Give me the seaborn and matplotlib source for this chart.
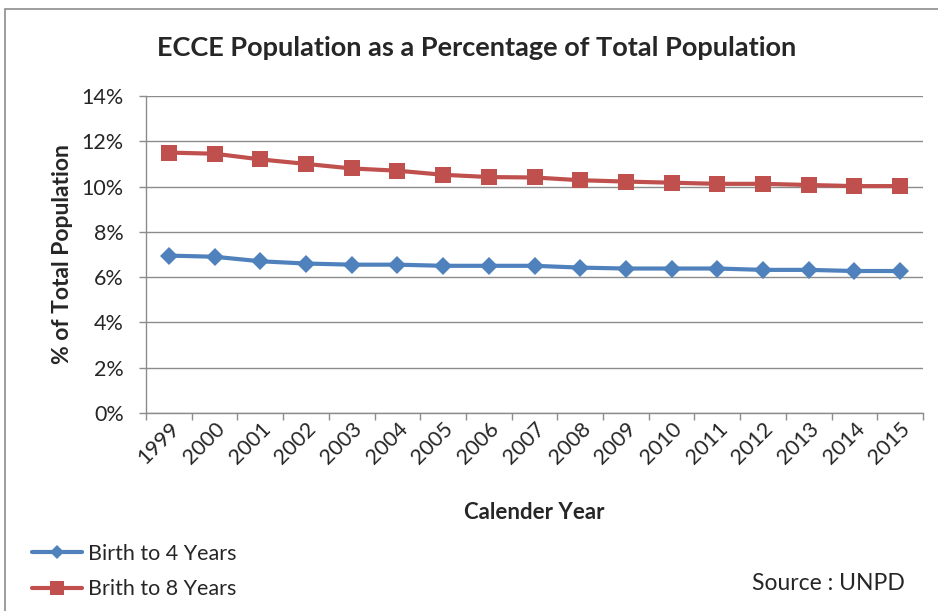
import matplotlib
matplotlib.use("Agg")
import matplotlib.pyplot as plt
from matplotlib.patches import Rectangle
from matplotlib.lines import Line2D
from matplotlib.ticker import FixedLocator, PercentFormatter
import numpy as np
import pandas as pd
import seaborn as sns

years = list(range(1999, 2016))
birth_to_4 = [6.95, 6.9, 6.7, 6.6, 6.55, 6.55, 6.5, 6.5, 6.5, 6.42, 6.38, 6.38, 6.38, 6.32, 6.32, 6.27, 6.27]
birth_to_8 = [11.5, 11.45, 11.2, 11.0, 10.8, 10.7, 10.52, 10.42, 10.4, 10.28, 10.22, 10.17, 10.12, 10.12, 10.07, 10.02, 10.02]
series_names = ["Birth to 4 Years", "Brith to 8 Years"]
y_ticks = [0, 2, 4, 6, 8, 10, 12, 14]

df = pd.DataFrame({
    "Year": years * 2,
    "Value": birth_to_4 + birth_to_8,
    "Series": [series_names[0]] * len(years) + [series_names[1]] * len(years),
})

sns.set_theme(style="white")
plt.rcParams["font.family"] = ["Lato", "DejaVu Sans"]

fig = plt.figure(figsize=(9.38, 6.11), dpi=100)
ax = fig.add_axes([0.1557, 0.3241, 0.984 - 0.1557, 0.8429 - 0.3241])

palette = {series_names[0]: "#4F81BD", series_names[1]: "#C0504D"}
markers = {series_names[0]: "D", series_names[1]: "s"}
sns.lineplot(data=df, x="Year", y="Value", hue="Series", style="Series",
             palette=palette, markers=markers, dashes=False, linewidth=3,
             markersize=9, markeredgewidth=0, ax=ax, legend=False)
# squares a bit larger than diamonds
for line in ax.get_lines():
    if line.get_marker() == "s":
        line.set_markersize(12)
    else:
        line.set_markersize(8.8)

ax.set_xlim(years[0] - 0.5, years[-1] + 0.5)
ax.set_ylim(0, 14)
ax.set_yticks(y_ticks)
ax.yaxis.set_major_formatter(PercentFormatter(decimals=0))
ax.grid(axis="y", color="#8C8C8C", linewidth=1)
ax.set_axisbelow(True)

tick_fs = 15.5
ax.set_xticks(years)
ax.set_xticklabels([str(y) for y in years], rotation=45, ha="right",
                   rotation_mode="anchor", fontsize=tick_fs)
ax.xaxis.set_minor_locator(FixedLocator(np.arange(years[0] - 0.5, years[-1] + 1, 1)))
ax.tick_params(axis="x", which="major", length=0, pad=4)
ax.tick_params(axis="x", which="minor", length=5, color="#8C8C8C", width=1, direction="out", bottom=True)
ax.tick_params(axis="y", length=5, color="#8C8C8C", width=1, direction="out", left=True,
               labelsize=tick_fs, pad=11)

for side in ["top", "right"]:
    ax.spines[side].set_visible(False)
for side in ["left", "bottom"]:
    ax.spines[side].set_color("#8C8C8C")
    ax.spines[side].set_linewidth(1)

ax.set_xlabel("Calender Year", fontsize=16, fontweight="bold")
ax.set_ylabel("% of Total Population", fontsize=16.5, fontweight="bold")
ax.xaxis.set_label_coords(0.5, -0.28)
ax.yaxis.set_label_coords(-0.094, 0.5)

fig.text(0.508, 0.921, "ECCE Population as a Percentage of Total Population",
         ha="center", va="center", fontsize=19.5, fontweight="bold")

# legend in the lower-left corner
handles = [Line2D([0], [0], color=palette[n], marker=markers[n], linewidth=3,
                  markersize=7.5 if markers[n] == "D" else 10, markeredgewidth=0)
           for n in series_names]
fig.legend(handles, series_names, loc="center left", bbox_to_anchor=(32 / 938, 1 - 571.5 / 611),
           frameon=False, fontsize=15.5, handlelength=2.3, handletextpad=0.28,
           labelspacing=0.7, borderpad=0, borderaxespad=0)

fig.text(905 / 938, 1 - 583 / 611, "Source : UNPD", ha="right", va="center", fontsize=16.5)

# outer chart border
fig.add_artist(Rectangle((5 / 938, -0.05), 1.2, 1 - 9 / 611 + 0.05,
                         transform=fig.transFigure, fill=False,
                         edgecolor="#8C8C8C", linewidth=1.2))

fig.savefig("out.png", dpi=100)
